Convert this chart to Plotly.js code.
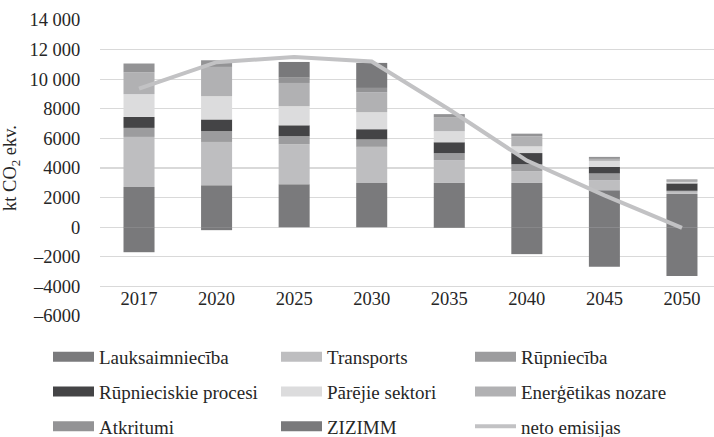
<!DOCTYPE html>
<html>
<head>
<meta charset="utf-8">
<script src="https://cdn.plot.ly/plotly-3.0.1.min.js"></script>
<style>
  html, body { margin: 0; padding: 0; background: #ffffff; }
  #chart { width: 714px; height: 437px; }
</style>
</head>
<body>
<div id="chart"></div>
<script>
// ---- data (kt CO2 ekv.) ----
var years = ['2017', '2020', '2025', '2030', '2035', '2040', '2045', '2050'];
var lauksaimnieciba = [2720, 2840, 2905, 2990, 2990, 2990, 2500, 2250];
var transports      = [3380, 2920, 2700, 2440, 1540, 790, 680, 150];
var rupnieciba      = [610, 730, 540, 500, 470, 470, 450, 60];
var rupnProcesi     = [740, 790, 740, 690, 740, 760, 450, 500];
var parejieSektori  = [1540, 1570, 1290, 1150, 750, 450, 400, 90];
var energetika      = [1480, 1980, 1570, 1350, 920, 680, 135, 90];
var atkritumi       = [590, 450, 360, 290, 230, 180, 135, 90];
var zizimm          = [-1690, -200, 1060, 1690, -50, -1820, -2680, -3290];
var netoEmisijas    = [9370, 11150, 11500, 11200, 7950, 4500, 2150, -50];

var yTickVals  = [14000, 12000, 10000, 8000, 6000, 4000, 2000, 0, -2000, -4000, -6000];
var yTickTexts = ['14 000', '12 000', '10 000', '8000', '6000', '4000', '2000', '0', '–2000', '–4000', '–6000'];

var FONT = 'Liberation Serif';
var TXT = '#262626';

function bar(name, values, color, legendId) {
  return {
    type: 'bar', name: name, x: years, y: values,
    marker: { color: color, line: { width: 0 } },
    legend: legendId, legendgroup: name,
    hoverinfo: 'name+y'
  };
}

var traces = [
  bar('Lauksaimniecība', lauksaimnieciba, '#7a7a7c', 'legend'),
  bar('Transports', transports, '#bebec0', 'legend2'),
  bar('Rūpniecība', rupnieciba, '#9c9c9e', 'legend3'),
  bar('Rūpnieciskie procesi', rupnProcesi, '#444446', 'legend'),
  bar('Pārējie sektori', parejieSektori, '#dcdcdd', 'legend2'),
  bar('Enerģētikas nozare', energetika, '#b1b1b3', 'legend3'),
  bar('Atkritumi', atkritumi, '#939395', 'legend'),
  bar('ZIZIMM', zizimm, '#79797b', 'legend2'),
  {
    type: 'scatter', mode: 'lines', name: 'neto emisijas', x: years, y: netoEmisijas,
    line: { color: '#c2c2c4', width: 4 },
    legend: 'legend3', legendgroup: 'neto emisijas'
  }
];

// plot area: x 100..714 px, y 20..316 px
function legendAt(xpx) {
  return {
    xref: 'paper', yref: 'paper',
    x: (xpx - 100) / 614, xanchor: 'left',
    y: (316 - 338) / 296, yanchor: 'top',
    orientation: 'v', traceorder: 'grouped', tracegroupgap: 7,
    itemwidth: 41, bgcolor: 'rgba(0,0,0,0)', borderwidth: 0,
    font: { family: FONT, size: 19, color: TXT }
  };
}

var layout = {
  width: 714, height: 437,
  margin: { l: 100, r: 0, t: 20, b: 121, pad: 0, autoexpand: false },
  paper_bgcolor: '#ffffff', plot_bgcolor: '#ffffff',
  font: { family: FONT, size: 18.5, color: TXT },
  barmode: 'relative', bargap: 0.6,
  showlegend: true,
  legend: legendAt(48),
  legend2: legendAt(276),
  legend3: legendAt(470),
  xaxis: {
    type: 'category', range: [-0.503, 7.413],
    anchor: 'free', position: 0.1014, side: 'bottom',
    showgrid: false, showline: false, zeroline: false, ticks: '',
    tickfont: { family: FONT, size: 18.5, color: TXT },
    automargin: false, fixedrange: true
  },
  yaxis: {
    range: [-6000, 14000],
    side: 'left',
    tickmode: 'array', tickvals: yTickVals, ticktext: yTickTexts,
    showgrid: true, gridcolor: '#d9d9d9', gridwidth: 1.3,
    zeroline: false, showline: false,
    ticks: 'outside', ticklen: 15, tickcolor: 'rgba(0,0,0,0)',
    tickfont: { family: FONT, size: 18.5, color: TXT },
    title: { text: 'kt CO<sub>2</sub> ekv.', standoff: 12, font: { family: FONT, size: 18.5, color: TXT } },
    automargin: false, fixedrange: true
  }
};

function widenSwatches(gd) {
  gd.querySelectorAll('.legendpoints path').forEach(function (p) {
    p.setAttribute('d', 'M20.5,5H-20.5V-5H20.5Z');
  });
}

Plotly.newPlot('chart', traces, layout, { displayModeBar: false, staticPlot: true }).then(function (gd) {
  widenSwatches(gd);
  gd.on('plotly_afterplot', function () { widenSwatches(gd); });
  setTimeout(function () { widenSwatches(gd); }, 30);
});
</script>
</body>
</html>
